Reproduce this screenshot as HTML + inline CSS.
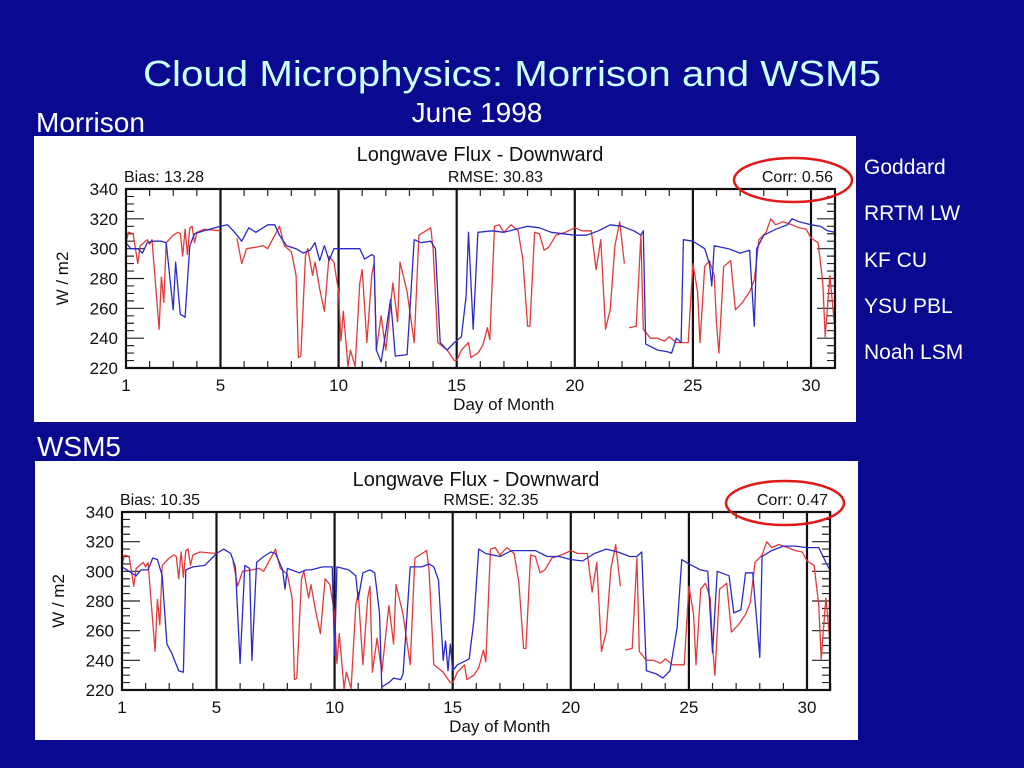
<!DOCTYPE html>
<html><head><meta charset="utf-8"><style>
html,body{margin:0;padding:0;background:#0a0a90;}
svg{display:block;font-family:"Liberation Sans",sans-serif;}
</style></head><body>
<svg id="s" width="1024" height="768" viewBox="0 0 1024 768">
<rect x="0" y="0" width="1024" height="768" fill="#0a0a90"/>
<text x="512" y="86" text-anchor="middle" font-size="36" fill="#ccffff" textLength="738" lengthAdjust="spacingAndGlyphs">Cloud Microphysics: Morrison and WSM5</text>
<text x="477" y="122" text-anchor="middle" font-size="28" fill="#ffffff">June 1998</text>
<text x="36" y="132" font-size="28" fill="#ffffff">Morrison</text>
<text x="37" y="456" font-size="28" fill="#ffffff">WSM5</text>
<g fill="#ffffff" font-size="21">
<text x="864" y="174">Goddard</text>
<text x="864" y="220">RRTM LW</text>
<text x="864" y="267">KF CU</text>
<text x="864" y="313">YSU PBL</text>
<text x="864" y="359">Noah LSM</text>
</g>
<g id="c1"></g>
<g id="c2"></g>
</svg>
<script>
// Observed (red) downward longwave flux
const obsDays=[1,1.1,1.3,1.5,1.6,1.9,2.0,2.1,2.4,2.5,2.6,2.7,3.0,3.2,3.3,3.4,3.5,3.6,3.7,3.8,3.9,4.0,4.3,5.0,null,5.7,5.9,6.1,6.5,6.8,7.0,7.2,7.5,7.7,8.0,8.2,8.3,8.4,8.6,8.7,8.9,9.0,9.2,9.4,9.6,9.8,10.0,10.1,10.2,10.4,10.5,10.7,10.9,11.0,11.2,11.4,11.5,11.6,11.8,12.0,12.3,12.5,12.6,12.9,13.2,13.4,13.7,13.9,14.0,14.2,14.6,14.9,15.0,15.2,15.5,15.6,15.9,16.1,16.3,16.4,16.6,16.8,17.0,17.3,17.6,17.8,18.0,18.1,18.3,18.5,18.7,18.9,19.2,19.6,20.0,20.3,20.7,20.9,21.1,21.3,21.5,21.7,21.9,22.1,null,22.3,22.6,22.8,22.9,23.2,23.5,23.8,24.0,24.3,24.6,24.8,25.0,25.2,25.3,25.5,25.7,25.9,26.0,26.1,26.3,26.6,26.8,27.1,27.4,27.6,27.8,28.1,28.3,28.5,28.8,29.2,29.5,29.8,30.0,30.3,30.5,30.6,30.8,31];
const obsVals=[304,311,310,290,302,306,303,306,246,281,264,304,309,311,310,295,313,296,314,315,304,311,313,312,null,307,290,300,301,302,300,306,315,302,298,282,227,228,295,300,282,291,273,258,295,291,271,238,258,221,232,221,277,286,237,282,290,232,255,232,277,251,291,271,237,309,312,314,300,237,232,225,225,232,237,227,230,235,247,239,315,316,311,316,312,293,248,248,311,310,299,301,309,311,314,312,312,286,306,246,259,302,318,290,null,247,248,309,246,240,240,238,241,237,237,237,290,271,237,288,292,282,250,230,288,292,259,264,271,279,306,311,320,316,318,316,314,313,307,304,277,241,282,248];
// Morrison model (blue)
const morDays=[1,1.2,1.5,1.7,1.9,2.1,2.5,2.7,3.0,3.1,3.3,3.5,3.7,3.9,4.3,5.0,5.3,5.6,5.9,6.2,6.5,6.8,7.0,7.3,7.5,7.8,8.2,8.5,8.8,9.0,9.2,9.4,9.6,9.8,10.0,10.5,10.9,11.1,11.4,11.5,11.6,11.8,12.0,12.2,12.4,12.9,13.2,13.5,13.9,14.1,14.3,14.6,14.9,15.2,15.4,15.5,15.7,15.9,16.5,17.0,17.5,18.0,18.5,19.0,20.0,20.5,21.0,21.5,22.0,22.5,22.8,22.9,23.0,23.5,23.9,24.1,24.3,24.5,24.6,25.0,25.5,25.7,25.8,25.9,26.5,27.0,27.4,27.6,27.7,28.0,28.5,29.0,29.2,29.5,30.0,30.4,30.7,31];
const morVals=[304,300,300,297,304,305,305,304,259,291,256,254,302,310,312,315,316,311,305,314,311,314,316,316,309,302,300,297,299,304,292,302,292,300,300,300,300,293,296,295,232,224,244,266,228,229,306,304,305,300,237,232,237,241,268,311,246,311,312,311,313,315,314,311,309,309,312,316,315,312,309,312,236,232,231,230,240,237,306,305,300,290,275,302,300,297,299,248,300,309,313,316,320,318,316,315,312,311];
// WSM5 model (blue)
const wsmDays=[1.0,1.4,1.6,1.8,2.1,2.3,2.5,2.7,2.9,3.1,3.4,3.6,3.7,4.0,4.5,5.0,5.3,5.6,5.8,6.0,6.2,6.4,6.5,6.7,7.0,7.3,7.5,7.8,7.9,8.0,8.5,8.8,9.0,9.5,9.9,10.0,10.1,10.6,10.9,11.0,11.2,11.5,11.7,11.9,12.0,12.3,12.5,12.8,12.9,13.2,13.7,14.0,14.2,14.4,14.6,14.7,14.8,14.9,15.0,15.2,15.7,15.9,16.1,16.4,17.0,17.5,18.0,18.5,19.0,19.5,20.0,20.5,21.0,21.5,22.0,22.5,22.8,23.0,23.2,23.6,23.9,24.2,24.5,24.7,25.0,25.5,25.8,26.0,26.2,26.7,26.9,27.2,27.4,27.7,28.0,28.1,28.5,29.0,29.5,30.0,30.5,30.8,31];
const wsmVals=[303,299,297,301,301,309,308,297,251,245,233,232,301,303,304,312,315,312,303,238,304,302,240,306,310,313,312,301,288,302,299,301,301,303,303,243,303,301,297,281,299,301,299,272,222,225,228,227,231,303,303,305,303,294,240,253,233,251,233,237,241,267,315,312,310,314,314,314,310,310,308,307,312,315,313,310,310,313,233,231,228,233,262,308,305,301,300,245,300,297,272,274,299,299,242,310,314,317,317,316,316,306,300];
const yTicks=[220,240,260,280,300,320,340];
const xTicks=[1,5,10,15,20,25,30];
const statsMor=["Bias: 13.28","RMSE: 30.83","Corr:  0.56"];
const statsWsm=["Bias: 10.35","RMSE: 32.35","Corr:  0.47"];

const NS="http://www.w3.org/2000/svg";
function mk(parent,tag,attrs){const e=document.createElementNS(NS,tag);for(const k in attrs)e.setAttribute(k,attrs[k]);parent.appendChild(e);return e;}

function chart(gid,P,modelDays,modelVals,stats,ell){
  const g=document.getElementById(gid);
  const xs=d=>P.x0+(d-1)*(P.x30-P.x0)/29;
  const ys=v=>P.yb-(v-220)*(P.yb-P.yt)/120;
  const bg=mk(g,'rect',{x:P.px,y:P.py,width:P.pw,height:P.ph,fill:'#ffffff'});
  
  
  const t=mk(g,'text',{x:P.tx,y:P.py+25,'text-anchor':'middle','font-size':20,fill:'#111'});
  t.textContent='Longwave Flux - Downward';
  
  
  const st=[[P.x0-2,'start'],[(P.x0+P.xr)/2+15,'middle'],[P.xr-2,'end']];
  stats.forEach((s,i)=>{const e=mk(g,'text',{x:st[i][0],y:P.yt-7,'text-anchor':st[i][1],'font-size':16,fill:'#111'});e.textContent=s;
    
    });
  let tk='';
  for(let v=220;v<=340;v+=5){const len=(v%20===0)?18:8;const y=ys(v);tk+=`M${P.x0} ${y}h${len}M${P.xr} ${y}h${-len}`;}
  for(let d=1;d<=31;d++){const x=xs(d);tk+=`M${x} ${P.yb}v-7M${x} ${P.yt}v7`;}
  const tp=mk(g,'path',{d:tk,stroke:'#222','stroke-width':1.2,fill:'none'});
  
  
  xTicks.forEach(d=>{
    if(d>1){const l=mk(g,'line',{x1:xs(d),x2:xs(d),y1:P.yt,y2:P.yb,stroke:'#111','stroke-width':2.2});
      
      }
    const e=mk(g,'text',{x:xs(d),y:P.yb+23,'text-anchor':'middle','font-size':17,fill:'#111'});e.textContent=d;
    
    
  });
  yTicks.forEach(v=>{const e=mk(g,'text',{x:P.x0-8,y:ys(v)+6,'text-anchor':'end','font-size':17,fill:'#111'});e.textContent=v;
    
    });
  const xl=mk(g,'text',{x:(xs(15)+xs(20))/2-12,y:P.yb+42,'text-anchor':'middle','font-size':17,fill:'#111'});xl.textContent='Day of Month';
  
  
  const yl=mk(g,'text',{x:0,y:0,'text-anchor':'middle','font-size':17,fill:'#111',transform:`translate(${P.x0-58},${(P.yt+P.yb)/2}) rotate(-90)`});yl.textContent='W / m2';
  
  
  function line(days,vals,color,name){
    let d='',pen=false;
    for(let i=0;i<days.length;i++){if(days[i]===null||vals[i]===null){pen=false;continue;}
      d+=(pen?'L':'M')+xs(days[i]).toFixed(1)+' '+ys(vals[i]).toFixed(1);pen=true;}
    const p=mk(g,'path',{d:d,stroke:color,'stroke-width':1.3,fill:'none','stroke-linejoin':'round'});
    
    
  }
  line(obsDays,obsVals,'#e23a3a','observed-series');
  line(modelDays,modelVals,'#2a2ac8','model-series');
  const fr=mk(g,'rect',{x:P.x0,y:P.yt,width:P.xr-P.x0,height:P.yb-P.yt,fill:'none',stroke:'#111','stroke-width':2.2});
  
  
  const el=mk(g,'ellipse',{cx:ell[0],cy:ell[1],rx:59,ry:22,fill:'none',stroke:'#e01818','stroke-width':2.5});
  
  
}
chart('c1',{px:34,py:136,pw:822,ph:286,x0:126,x30:811,xr:835,yt:189,yb:368,tx:480},morDays,morVals,statsMor,[793,180]);
chart('c2',{px:35,py:461,pw:823,ph:279,x0:122,x30:807,xr:830,yt:512,yb:690,tx:476},wsmDays,wsmVals,statsWsm,[785,503]);
</script>
</body></html>
